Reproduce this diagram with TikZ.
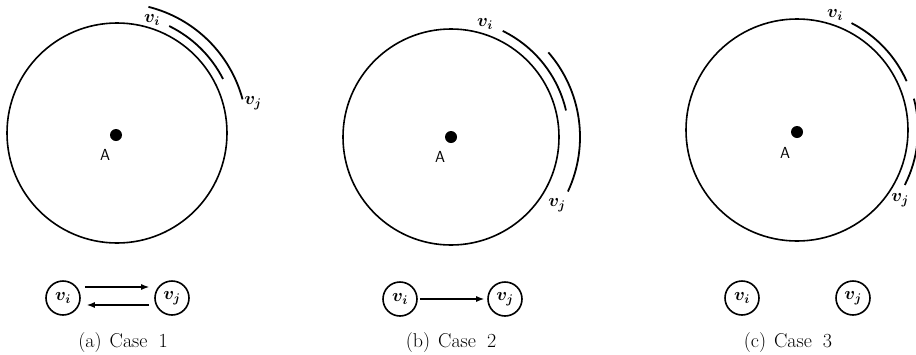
\RequirePackage{fix-cm}
\documentclass[tikz,border=0pt]{standalone}
\usetikzlibrary{arrows.meta,calc}
\begin{document}
\begin{tikzpicture}[x=1pt,y=-1pt,
  bigc/.style={line width=1.6pt},
  arcs/.style={line width=1.8pt},
  dotn/.style={circle,fill,minimum size=12pt,inner sep=0pt},
  vnode/.style={circle,draw,line width=1.6pt,minimum size=34pt,inner sep=0pt,font=\fontsize{18}{20}\selectfont\boldmath},
  lab/.style={font=\fontsize{18}{20}\selectfont\boldmath,inner sep=0pt},
  alab/.style={font=\sffamily\fontsize{16}{18}\selectfont,inner sep=0pt},
  captext/.style={font=\fontsize{20}{23}\selectfont,inner sep=0pt},
  arr/.style={line width=1.3pt,-{Latex[length=8pt,width=6pt]}}]
\useasboundingbox (0,0) rectangle (916,354);
\clip (0,0) rectangle (916,354);

% ---------- Case 1 ----------
\coordinate (cA) at (117,133);
\draw[bigc] (cA) circle[radius=110];
\node[dotn] (dA) at (116,135) {};
\node[alab] (aA) at (105,155) {A};
\draw[arcs] (cA) ++(-76:130) arc[start angle=-76,end angle=-15,radius=130];
\draw[arcs] (cA) ++(-64:119) arc[start angle=-64,end angle=-27,radius=119];
\node[lab] (viA) at (152,20) {$v_i$};
\node[lab] (vjA) at (253,103) {$v_j$};
\node[vnode] (ni1) at (63,298) {$v_i$};
\node[vnode] (nj1) at (172,298) {$v_j$};
\draw[arr] ([xshift=4pt,yshift=11pt]ni1.east) -- ([xshift=-5pt,yshift=11pt]nj1.west);
\draw[arr] ([xshift=-5pt,yshift=-7pt]nj1.west) -- ([xshift=6pt,yshift=-7pt]ni1.east);
\node[captext] (capA) at (123,343) {(a)\hspace{8pt}Case\hspace{11pt}1};

% ---------- Case 2 ----------
\coordinate (cB) at (451,137);
\draw[bigc] (cB) circle[radius=108];
\node[dotn] (dB) at (451,137) {};
\node[alab] (aB) at (440,157) {A};
\draw[arcs] (cB) ++(-64:118) arc[start angle=-64,end angle=-13,radius=118];
\draw[arcs] (cB) ++(-41:129) arc[start angle=-41,end angle=25,radius=129];
\node[lab] (viB) at (485,24) {$v_i$};
\node[lab] (vjB) at (557,205) {$v_j$};
\node[vnode] (ni2) at (400,299) {$v_i$};
\node[vnode] (nj2) at (505,299) {$v_j$};
\draw[arr] ([xshift=2pt]ni2.east) -- ([xshift=-3pt]nj2.west);
\node[captext] (capB) at (451,343) {(b)\hspace{8pt}Case\hspace{11pt}2};

% ---------- Case 3 ----------
\coordinate (cC) at (797,130);
\draw[bigc] (cC) circle[radius=111];
\node[dotn] (dC) at (797,132) {};
\node[alab] (aC) at (785,153) {A};
\draw[arcs] (cC) ++(-63:120) arc[start angle=-63,end angle=-24,radius=120];
\draw[arcs] (cC) ++(-15:121) arc[start angle=-15,end angle=27,radius=121];
\node[lab] (viC) at (835,15) {$v_i$};
\node[lab] (vjC) at (900,200) {$v_j$};
\node[vnode] (ni3) at (742,298) {$v_i$};
\node[vnode] (nj3) at (853,298) {$v_j$};
\node[captext] (capC) at (788,343) {(c)\hspace{8pt}Case\hspace{11pt}3};
\end{tikzpicture}
\end{document}
